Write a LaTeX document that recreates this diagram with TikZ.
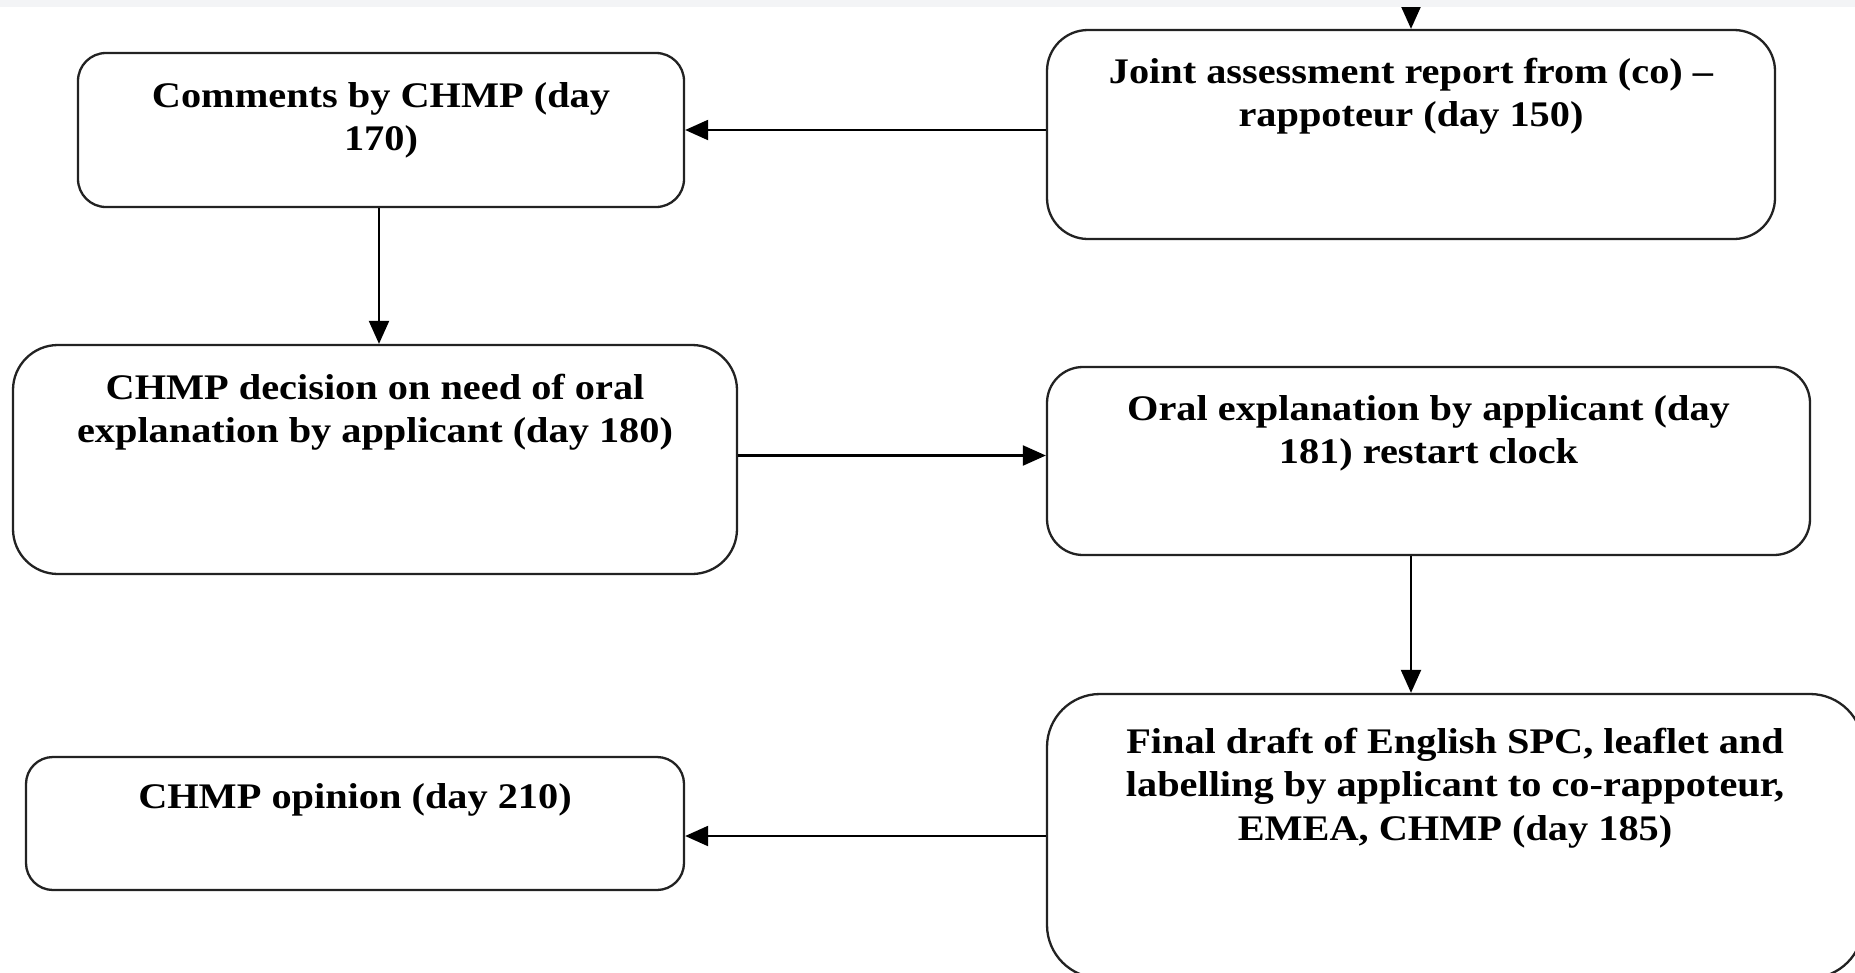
\documentclass[tikz,border=0pt]{standalone}
\usepackage{fontspec}
\setmainfont{Liberation Serif}[FakeStretch=1.12]
\usetikzlibrary{arrows.meta}
\definecolor{stripgrey}{HTML}{F3F4F6}
\definecolor{boxline}{HTML}{222222}
\begin{document}
\begin{tikzpicture}[x=1pt,y=-1pt,
  stage/.style={draw=boxline, line width=2.3pt, fill=white, inner sep=0pt},
  caption/.style={font=\fontsize{36}{43.5}\selectfont\bfseries, align=center, inner sep=0pt, anchor=north},
  arr/.style={draw=black, line width=2.2pt, -{Triangle[length=23pt,width=20pt]}}]
\useasboundingbox (0,0) rectangle (1855,972);
\fill[white] (0,0) rectangle (1855,972);
\coordinate (origin) at (0,0);

% process stages
\node[stage, rounded corners=41pt, minimum width=728pt, minimum height=209pt] (joint) at (1411,134.5) {};
\node[stage, rounded corners=28pt, minimum width=606pt, minimum height=154pt] (comments) at (381,130) {};
\node[stage, rounded corners=45pt, minimum width=724pt, minimum height=229pt] (decision) at (375,459.5) {};
\node[stage, rounded corners=36pt, minimum width=763pt, minimum height=188pt] (oral) at (1428.5,461) {};
\node[stage, rounded corners=53pt, minimum width=816pt, minimum height=284pt] (final) at (1455,836) {};
\node[stage, rounded corners=27pt, minimum width=658pt, minimum height=133pt] (opinion) at (355,823.5) {};

% stage texts
\node[caption] (t-joint) at ([yshift=-29pt]joint.north) {Joint assessment report from (co) –\\rappoteur (day 150)};
\node[caption] (t-comments) at ([yshift=-30pt]comments.north) {Comments by CHMP (day\\170)};
\node[caption] (t-decision) at ([yshift=-30pt]decision.north) {CHMP decision on need of oral\\explanation by applicant (day 180)};
\node[caption] (t-oral) at ([yshift=-29pt]oral.north) {Oral explanation by applicant (day\\181) restart clock};
\node[caption] (t-final) at ([yshift=-35pt]final.north) {Final draft of English SPC, leaflet and\\labelling by applicant to co-rappoteur,\\EMEA, CHMP (day 185)};
\node[caption] (t-opinion) at ([yshift=-27pt]opinion.north) {CHMP opinion (day 210)};

% connectors
\coordinate (feed) at (joint.north |- origin);
\draw[arr] (feed) -- (joint.north);
\draw[arr] (joint.west |- comments.east) -- (comments.east);
\coordinate (cs) at ([xshift=-2pt]comments.south);
\draw[arr] (cs) -- (cs |- decision.north);
\coordinate (de) at ([yshift=4pt]decision.east);
\draw[arr] (de) -- (de -| oral.west);
\draw[arr] (oral.south -| joint.north) -- (final.north -| joint.north);
\coordinate (oe) at ([yshift=-12.5pt]opinion.east);
\draw[arr] (final.west |- oe) -- (oe);

% top strip
\fill[stripgrey] (0,0) rectangle (1855,7);
\end{tikzpicture}
\end{document}
